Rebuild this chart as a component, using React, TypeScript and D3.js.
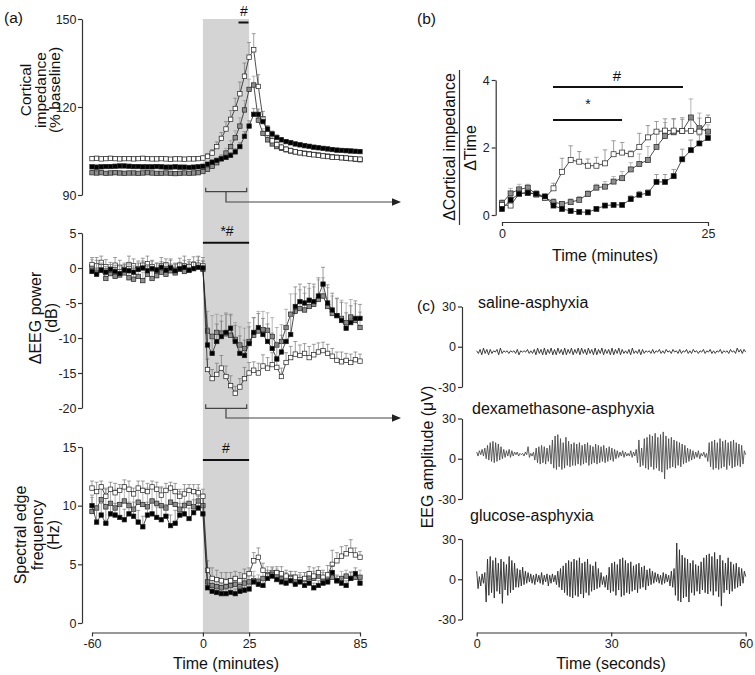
import React, { useRef, useEffect } from 'react';
import * as d3 from 'd3';

const FONT = 'Arial, "Liberation Sans", Helvetica, sans-serif';

// sampling grid of panel (a): -60 .. 85 min every 2.5 min
const minutes = d3.range(59).map(i => -60 + 2.5 * i);

// (a) cortical impedance, % baseline
const impWhite = [102.4,102.5,102.3,102.4,102.5,102.4,102.3,102.4,102.4,102.3,102.4,102.5,102.4,102.3,102.3,102.4,102.3,102.2,102.3,102.3,102.2,102.3,102.3,102.4,
  102.6,103.2,104.3,106.5,109.3,112.5,115.8,119.5,124.5,130.5,137,139.5,127,116,111,108.5,107.2,106.3,105.6,105.1,104.7,104.4,104.1,103.9,103.7,103.5,103.3,103.1,102.9,102.8,102.7,102.6,102.4,102.3,102.2];
const impGray = [97.6,97.5,97.6,97.4,97.5,97.6,97.5,97.4,97.5,97.5,97.4,97.5,97.6,97.5,97.4,97.4,97.5,97.4,97.3,97.4,97.5,97.4,97.5,97.6,
  98,98.8,99.8,101,102.5,104.3,106.5,109.5,113.5,119,126,127.5,115.5,111,108.8,107.4,106.5,105.9,105.4,105,104.7,104.4,104.2,104,103.8,103.6,103.4,103.2,103,102.8,102.7,102.5,102.4,102.2,102];
const impBlack = [99.6,99.5,99.6,99.7,99.7,99.8,99.9,99.9,99.8,99.7,99.7,99.6,99.6,99.6,99.7,99.6,99.5,99.5,99.6,99.5,99.5,99.4,99.5,99.6,
  99.8,100.5,101.2,101.8,102.3,102.8,103.5,104.7,106.5,110,113.5,117.5,117.5,115,112.5,110.8,109.6,108.8,108.2,107.8,107.4,107.1,106.8,106.6,106.3,106.1,105.9,105.7,105.5,105.3,105.2,105.1,105,104.9,104.8];
const impWhiteErr = [0.7,0.7,0.7,0.7,0.7,0.7,0.7,0.7,0.7,0.7,0.7,0.7,0.7,0.7,0.7,0.7,0.7,0.7,0.7,0.7,0.7,0.7,0.7,0.7,
  0.7,0.9,1.2,1.6,2,2.5,3,3.5,4,4.5,5,5.5,4,2.5,1.6,1.3,1.1,1,0.9,0.9,0.8,0.8,0.8,0.8,0.8,0.8,0.8,0.8,0.8,0.8,0.8,0.8,0.8,0.8,0.8];
const impGrayErr = [0.6,0.6,0.6,0.6,0.6,0.6,0.6,0.6,0.6,0.6,0.6,0.6,0.6,0.6,0.6,0.6,0.6,0.6,0.6,0.6,0.6,0.6,0.6,0.6,
  0.6,0.7,0.9,1.1,1.3,1.6,2,2.4,2.8,3.2,3.5,3,2.2,1.6,1.3,1.1,1,0.9,0.9,0.8,0.8,0.8,0.8,0.8,0.8,0.8,0.8,0.8,0.8,0.8,0.8,0.8,0.8,0.8,0.8];
const impBlackErr = [0.4,0.4,0.4,0.4,0.4,0.4,0.4,0.4,0.4,0.4,0.4,0.4,0.4,0.4,0.4,0.4,0.4,0.4,0.4,0.4,0.4,0.4,0.4,0.4,
  0.4,0.5,0.6,0.7,0.8,0.9,1,1.1,1.3,1.6,1.8,2,1.8,1.5,1.2,1,0.9,0.8,0.7,0.7,0.6,0.6,0.6,0.6,0.6,0.6,0.6,0.6,0.6,0.6,0.6,0.6,0.6,0.6,0.6];

// (a) delta EEG power, dB
const eegWhite = [0.5,0.3,0.8,0.2,-0.3,0.4,0.1,-0.2,0.5,0.3,-0.1,0.4,0.6,0.2,-0.3,0.3,0.5,0.1,-0.2,0.4,0.3,0.2,0.5,0.4,
  0.3,-14.5,-15.8,-15.2,-14.3,-15.5,-16.8,-17.9,-17,-15.8,-15,-14.6,-15,-14,-14.3,-13.8,-14.2,-15.5,-13.5,-12.8,-12.3,-12.5,-12.2,-12.8,-12.4,-12,-11.8,-12.2,-12.6,-13.2,-13.4,-13.2,-13.5,-13.1,-13.3];
const eegGray = [0.2,-0.6,-0.3,-1.5,-0.8,-1.2,-1.0,-0.7,-1.4,-1.6,-1.2,-1.8,-0.9,-1.5,-1.1,-0.6,-0.9,-0.4,-0.7,-0.2,-0.5,-0.3,0,0.2,
  -0.2,-9,-9.8,-9.2,-9.3,-9.4,-9.6,-10.2,-11,-11.5,-10.5,-9.6,-9,-8.8,-8.9,-9.8,-11,-10.5,-8.5,-6.6,-6.2,-5.8,-6,-5.5,-5.2,-4.5,-4,-5.5,-6.5,-6.8,-7.2,-7.8,-7,-7.5,-8.5];
const eegBlack = [-0.5,-0.9,-0.3,-0.6,-0.2,-0.5,-0.8,-0.3,-0.4,-0.6,-0.2,0,-0.4,-0.1,-0.3,0.1,-0.3,0,-0.4,-0.1,0.1,-0.3,-0.1,0.1,
  0,-11,-12.2,-10.5,-9.8,-9.2,-8.6,-10.5,-12.2,-12.5,-10.8,-9.2,-8.5,-9.5,-10.5,-11.5,-13,-12,-10.5,-9.5,-5.5,-4.8,-5,-4.6,-4.8,-4,-2.3,-5,-6,-6.8,-7.5,-8.6,-7.8,-7.2,-7.2];
const eegWhiteErr = [1,1.2,0.9,1,0.8,1.1,1,0.9,1.2,1,0.8,1,1.1,0.9,1,1.2,0.8,1,0.9,1,1.4,1,1.1,1.2,
  1.2,1.5,1.3,1.6,1.8,1.5,1.4,1,1.2,1.6,1.5,1.2,1.4,1.6,1.5,1.7,1.5,1.2,1.4,1.6,1.8,1.5,1.4,1.6,1.5,1.3,1.2,1.3,1.1,1.2,1.4,1,1.2,1.1,1];
const eegGrayErr = [1,1.1,0.9,1.2,1,1.1,0.9,1,1.2,1.1,1,1.2,0.9,1,1.1,1,0.9,1,1.2,1,1.1,1,0.9,1.5,
  1.2,2.8,3,2.6,2.5,3,2.8,2.4,2.6,2.9,2.7,2.5,2.8,2.6,2.5,2.7,2.5,2.4,2.6,2.9,2.5,2.7,2.4,2.6,2.5,2.8,2.6,2.7,2.5,2.4,2.6,2.8,2.5,2.4,2.2];
const eegBlackErr = [0.8,2,1,0.8,1,0.9,1.1,0.8,1,0.9,1.2,1,0.9,1.1,1,0.8,1,1.3,1,0.9,1,1.2,1,1,
  1,2.5,2.8,2.5,2.2,2.6,2,2.3,2.5,2.2,2.4,2.1,2,2.3,2.5,2.2,2,2.4,2.2,2.6,2.8,2.5,2.3,2.4,2.5,2.6,2.4,2.6,2.4,2.5,2.6,2.2,2.4,2.5,2];

// (a) spectral edge frequency, Hz
const sefWhite = [11.5,11.2,11.6,10.8,11.4,11.1,11.3,11.6,11.4,11.0,11.5,11.3,11.2,11.6,11.4,10.9,11.3,11.5,11.2,10.8,11.0,11.3,11.2,11.1,
  10.8,4.5,3.8,3.7,3.6,3.5,3.6,3.8,3.6,4.0,4.2,5.3,5.6,4.5,4.0,4.1,4.3,4.2,4.0,3.8,3.9,3.7,3.8,4.2,4.0,4.3,3.9,4.1,5.0,5.3,5.7,5.9,6.2,5.8,5.6];
const sefGray = [9.5,9.8,10.5,9.9,10.2,9.8,10.1,10.4,10.0,9.7,10.3,10.1,9.9,10.4,10.2,10.0,9.8,10.3,10.1,9.7,10.0,10.2,9.9,10.4,
  10.0,3.5,3.2,3.1,3.0,3.1,3.2,3.3,3.1,3.4,3.5,3.6,3.5,3.8,4.1,4.3,4.0,3.8,3.7,3.9,3.5,3.6,3.7,3.9,3.8,4.0,3.7,3.6,3.9,3.6,3.8,4.0,3.8,3.9,3.9];
const sefBlack = [10.0,8.6,9.2,8.5,9.3,9.2,9.0,8.8,9.3,9.1,8.6,8.2,9.2,9.3,9.0,8.8,9.1,8.3,8.5,9.2,9.3,8.9,9.4,9.8,
  9.3,3.0,2.7,2.6,2.5,2.5,2.6,2.5,2.7,2.8,2.9,3.5,3.3,3.2,3.8,4.0,3.7,3.5,3.4,3.6,3.3,3.5,3.2,3.4,3.0,3.2,3.4,3.5,4.3,3.6,3.4,3.2,3.8,4.2,3.4];
const sefWhiteErr = [0.6,0.8,0.5,0.7,0.6,0.8,0.5,0.6,0.7,0.5,0.6,0.8,0.7,0.5,0.6,0.7,0.6,0.5,0.7,0.6,0.8,0.5,0.6,0.7,
  0.6,0.8,0.9,0.8,0.7,0.8,0.7,0.6,0.7,0.6,0.5,0.7,0.8,0.6,0.5,0.6,0.5,0.6,0.5,0.6,0.5,0.6,0.5,0.6,0.7,0.5,0.6,0.8,1.2,0.7,0.8,0.7,0.9,0.6,0.5];
const sefGrayErr = [1.2,1.4,1.3,1.5,1.2,1.6,1.3,1.4,1.2,1.5,1.3,1.4,1.6,1.2,1.3,1.5,1.4,1.2,1.3,1.5,1.4,1.2,1.3,1.1,
  1,0.8,0.7,0.6,0.6,0.7,0.6,0.6,0.7,0.6,0.7,0.8,0.6,0.6,0.7,0.5,0.6,0.5,0.6,0.5,0.6,0.5,0.6,0.5,0.6,0.5,0.6,0.5,0.6,0.5,0.6,0.5,0.6,0.5,0.6];
const sefBlackErr = [0.9,1.1,1,1.2,0.9,1,1.1,0.9,1,1.2,1,0.9,1.1,1,0.9,1.2,1,0.9,1.1,1,1,0.9,1.1,1,
  0.8,0.5,0.4,0.4,0.4,0.4,0.4,0.4,0.4,0.4,0.4,0.5,0.5,0.4,0.4,0.5,0.4,0.4,0.4,0.4,0.4,0.4,0.4,0.4,0.4,0.4,0.4,0.4,0.6,0.4,0.4,0.4,0.5,0.5,0.4];

// (b) rate of impedance change during asphyxia, 25 samples over 0-25 min
const rateWhite = [0.3,0.28,0.64,0.66,0.61,0.5,0.79,1.28,1.63,1.58,1.46,1.46,1.53,1.8,1.85,1.8,2.02,2.3,2.47,2.5,2.5,2.49,2.49,2.47,2.81];
const rateGray = [0.35,0.64,0.76,0.81,0.61,0.52,0.38,0.33,0.38,0.45,0.62,0.81,0.84,0.99,1.09,1.35,1.51,1.63,2.02,2.34,2.45,2.49,2.89,2.57,2.47];
const rateBlack = [0.18,0.45,0.63,0.66,0.63,0.55,0.28,0.18,0.12,0.09,0.08,0.18,0.28,0.3,0.3,0.47,0.6,0.65,0.98,0.98,1.15,1.65,1.92,2.12,2.28];
const rateWhiteErr = [0.1,0.1,0.15,0.1,0.1,0.1,0.15,0.4,0.42,0.3,0.2,0.25,0.4,0.4,0.3,0.1,0.4,0.35,0.3,0.35,0.35,0.35,0.4,0.4,0.15];
const rateGrayErr = [0.1,0.15,0.15,0.1,0.1,0.1,0.1,0.05,0.1,0.1,0.1,0.1,0.15,0.15,0.2,0.2,0.3,0.4,0.45,0.4,0.4,0.4,0.55,0.45,0.2];
const rateBlackErr = [0.05,0.1,0.1,0.1,0.05,0.05,0.05,0.05,0.05,0.05,0.05,0.05,0.05,0.05,0.05,0.1,0.1,0.1,0.22,0.22,0.2,0.3,0.3,0.25,0.15];

// (c) raw EEG traces, microvolts, spread evenly over 60 s
const salineTrace = [-3,-5,-2,-6,-1,-5,-2,-6,-2,-5,-3,-4,-2,-6,-1,-5,-3,-4,-3,-5,-3,-4,-3,-5,-2,-6,-3,-4,-3,-4,-2,-5,-3,-5,-2,-6,-1,-5,-2,-6,
  -1,-6,-2,-5,-1,-6,-2,-6,-1,-5,-2,-6,-1,-6,-2,-5,-1,-6,-2,-5,-1,-6,-1,-5,-2,-6,-1,-5,-2,-6,-1,-6,-2,-5,-1,-6,-2,-5,-2,-6,
  -1,-6,-2,-5,-1,-6,-2,-5,-3,-5,-2,-6,-1,-5,-3,-5,-2,-6,-2,-5,-3,-4,-3,-5,-2,-5,-3,-4,-2,-5,-3,-5,-2,-4,-3,-5,-2,-4,-3,-5,
  -2,-5,-3,-4,-2,-5,-3,-5,-2,-4,-3,-5,-3,-4,-2,-5,-3,-4,-2,-5,-3,-5,-3,-4,-2,-5,-3,-4,-3,-5,-2,-4,-3,-5,-1,-4,-2,-5,-2,-4];
const dexTrace = [5,2,6,3,7,2,
  8,0,10,-1,12,-2,13,-3,12,-2,11,-1,9,
  0,7,1,6,2,7,1,6,2,5,3,5,2,4,
  3,4,2,5,3,9,1,4,2,5,
  -1,8,-3,9,-4,10,-3,9,-4,8,-2,10,-4,
  14,-7,17,-8,18,-6,15,-8,12,-7,16,-5,13,-6,11,-5,12,
  -5,11,-4,12,-5,10,-4,11,-3,12,-5,10,-4,9,-3,11,-4,10,-3,9,-2,10,-3,8,-2,9,-1,8,-2,7,
  0,6,1,5,2,6,1,5,2,4,2,6,1,5,2,7,
  -3,14,-6,8,
  -5,15,-7,16,-8,18,-6,17,-8,19,-7,16,-9,18,-10,20,-15,17,-8,15,-7,16,-6,14,-7,13,-5,12,-6,11,-4,10,-3,
  8,-2,7,-1,6,0,5,1,6,0,4,2,5,1,4,-2,12,
  -6,13,-8,14,-7,12,-8,15,-7,13,-6,14,-8,12,-5,13,-7,14,-6,12,-5,11,-6,10,-4,6,3];
const glucoseTrace = [6,-7,2,-5,4,-3,5,
  -17,15,-12,17,-10,14,-14,16,-9,12,-11,15,-18,13,-8,11,-12,17,-10,14,-8,12,-6,
  8,-6,7,-5,9,-4,6,-3,5,-2,
  4,-3,3,-4,4,-2,3,-3,5,-4,3,-2,4,-5,3,-3,4,-2,3,-4,
  6,-6,8,-8,10,-10,12,-12,14,-13,13,-14,15,-12,14,-13,16,-11,12,-14,13,-10,15,-12,11,-9,10,-8,13,-7,8,-6,5,-4,
  2,-6,3,
  -8,9,-10,12,-9,13,-12,11,-8,15,-13,16,-12,14,-10,12,-11,13,-9,10,-8,11,-10,12,-7,9,-6,10,-8,7,-5,8,-4,6,-3,5,-2,
  4,-3,3,-4,5,-3,4,-2,3,-5,6,-6,8,
  -12,27,-16,22,-17,18,-14,16,-13,15,-17,12,-10,14,-12,11,-9,10,-11,13,-8,16,-10,18,-11,19,-9,
  17,-12,20,-9,15,-13,18,-20,14,-10,12,-8,16,-11,13,-9,11,-7,12,-6,9,-5,8,-3,6,2];

const GRAY_FILL = '#8e8e8e';

function styleAxis(g: any) {
  g.attr('font-family', FONT).attr('font-size', 12.5);
  g.select('.domain').attr('stroke', '#333').attr('stroke-width', 1.2);
  g.selectAll('.tick line').attr('stroke', '#333').attr('stroke-width', 1.2);
  g.selectAll('.tick text').attr('fill', '#222');
}

function drawSeries(g: any, x: any, y: any, xs: number[], vals: number[], errs: number[], fill: string, size: number) {
  const cap = size * 0.45;
  const eg = g.append('g').attr('stroke', fill === GRAY_FILL ? '#9a9a9a' : '#777').attr('stroke-width', 0.7);
  vals.forEach((v, i) => {
    const cx = x(xs[i]);
    const top = y(v + errs[i]);
    eg.append('line').attr('x1', cx).attr('x2', cx).attr('y1', y(v)).attr('y2', top);
    eg.append('line').attr('x1', cx - cap).attr('x2', cx + cap).attr('y1', top).attr('y2', top);
  });
  const line = d3.line<number>().x((_, i) => x(xs[i])).y(d => y(d));
  g.append('path').datum(vals).attr('d', line).attr('fill', 'none').attr('stroke', '#222').attr('stroke-width', 0.8);
  g.append('g').selectAll('rect').data(vals).enter().append('rect')
    .attr('x', (_: number, i: number) => x(xs[i]) - size / 2)
    .attr('y', (d: number) => y(d) - size / 2)
    .attr('width', size).attr('height', size)
    .attr('fill', fill).attr('stroke', '#222').attr('stroke-width', 0.7);
}

function addText(svg: any, x: number, y: number, txt: string, size: number, anchor = 'start', rotate = false) {
  svg.append('text')
    .attr('transform', rotate ? `translate(${x},${y}) rotate(-90)` : `translate(${x},${y})`)
    .attr('text-anchor', anchor)
    .attr('font-family', FONT).attr('font-size', size).attr('fill', '#111')
    .text(txt);
}

const App = () => {
  const ref = useRef<SVGSVGElement>(null);

  useEffect(() => {
    const svg = d3.select(ref.current);
    svg.selectAll('*').remove();
    const fmt = (d: any) => String(d);

    // ---------- panel (a) ----------
    const xA = d3.scaleLinear().domain([-60, 85]).range([92, 360]);
    const yImp = d3.scaleLinear().domain([90, 150]).range([195, 19]);
    const yEeg = d3.scaleLinear().domain([-20, 5]).range([408, 233]);
    const ySef = d3.scaleLinear().domain([0, 15]).range([623, 447]);

    // asphyxia shading
    svg.append('rect').attr('x', xA(0)).attr('y', 19).attr('width', xA(25) - xA(0)).attr('height', 632 - 19)
      .attr('fill', '#d4d4d4');

    const panels = [
      { y: yImp, ticks: [90, 120, 150], s: [impGray, impWhite, impBlack], e: [impGrayErr, impWhiteErr, impBlackErr] },
      { y: yEeg, ticks: [-20, -15, -10, -5, 0, 5], s: [eegGray, eegWhite, eegBlack], e: [eegGrayErr, eegWhiteErr, eegBlackErr] },
      { y: ySef, ticks: [0, 5, 10, 15], s: [sefGray, sefWhite, sefBlack], e: [sefGrayErr, sefWhiteErr, sefBlackErr] },
    ];
    const fills = [GRAY_FILL, '#ffffff', '#000000'];
    panels.forEach(p => {
      const ax = svg.append('g').attr('transform', 'translate(82,0)')
        .call(d3.axisLeft(p.y).tickValues(p.ticks).tickFormat(fmt).tickSize(4).tickSizeOuter(0).tickPadding(1.5));
      styleAxis(ax);
      const g = svg.append('g');
      p.s.forEach((vals, k) => drawSeries(g, xA, p.y, minutes, vals, p.e[k], fills[k], 4.4));
    });
    const xAx = svg.append('g').attr('transform', 'translate(0,632.5)')
      .call(d3.axisBottom(xA).tickValues([-60, 0, 25, 85]).tickFormat(fmt).tickSize(4).tickSizeOuter(0).tickPadding(3));
    styleAxis(xAx);

    // significance bars
    const bar = (x1: number, x2: number, y: number) =>
      svg.append('line').attr('x1', x1).attr('x2', x2).attr('y1', y).attr('y2', y).attr('stroke', '#111').attr('stroke-width', 2);
    bar(238.5, 248.5, 22.5);
    addText(svg, 244, 16, '#', 14, 'middle');
    bar(xA(0), xA(25), 242.7);
    addText(svg, 227, 236, '*#', 14, 'middle');
    bar(xA(0), xA(25), 460);
    addText(svg, 226, 453, '#', 14, 'middle');

    // brackets and arrows pointing to (b) and (c)
    [{ yb: 191.7, ya: 202 }, { yb: 408.3, ya: 418 }].forEach(b => {
      const x1 = 205.7, x2 = 246.7, xm = 226;
      svg.append('path')
        .attr('d', `M${x1},${b.yb - 4}V${b.yb}H${x2}V${b.yb - 4}M${xm},${b.yb}V${b.ya}H393`)
        .attr('fill', 'none').attr('stroke', '#444').attr('stroke-width', 1.2);
      svg.append('path').attr('d', `M401,${b.ya}L392,${b.ya - 3.8}L392,${b.ya + 3.8}Z`).attr('fill', '#222');
    });

    // axis titles (a)
    addText(svg, 4, 23, '(a)', 15.5);
    addText(svg, 31, 90, 'Cortical', 15.5, 'middle', true);
    addText(svg, 45.5, 90, 'impedance', 15.5, 'middle', true);
    addText(svg, 60, 90, '(% baseline)', 15.5, 'middle', true);
    addText(svg, 41, 318, 'ΔEEG power', 16, 'middle', true);
    addText(svg, 57, 318, '(dB)', 16, 'middle', true);
    addText(svg, 26, 535, 'Spectral edge', 16, 'middle', true);
    addText(svg, 43, 535, 'frequency', 16, 'middle', true);
    addText(svg, 59, 535, '(Hz)', 16, 'middle', true);
    addText(svg, 226, 669, 'Time (minutes)', 16, 'middle');

    // ---------- panel (b) ----------
    const xB = d3.scaleLinear().domain([0, 25]).range([502, 708]);
    const yB = d3.scaleLinear().domain([0, 4]).range([215, 80]);
    const bMinutes = rateBlack.map((_, i) => (i * 25) / (rateBlack.length - 1));
    const ayB = svg.append('g').attr('transform', 'translate(495.7,0)')
      .call(d3.axisLeft(yB).tickValues([0, 2, 4]).tickFormat(fmt).tickSize(4).tickSizeOuter(0).tickPadding(2));
    styleAxis(ayB);
    const axB = svg.append('g').attr('transform', 'translate(0,222)')
      .call(d3.axisBottom(xB).tickValues([0, 25]).tickFormat(fmt).tickSize(4).tickSizeOuter(0).tickPadding(3));
    styleAxis(axB);
    const gB = svg.append('g');
    drawSeries(gB, xB, yB, bMinutes, rateGray, rateGrayErr, GRAY_FILL, 5);
    drawSeries(gB, xB, yB, bMinutes, rateWhite, rateWhiteErr, '#ffffff', 5);
    drawSeries(gB, xB, yB, bMinutes, rateBlack, rateBlackErr, '#000000', 5);
    bar(553, 683, 87);
    addText(svg, 617, 81, '#', 15, 'middle');
    bar(553, 622, 120);
    addText(svg, 588, 109, '*', 14, 'middle');
    addText(svg, 417, 24, '(b)', 15.5);
    addText(svg, 455, 147, 'ΔCortical impedance', 16, 'middle', true);
    svg.append('line').attr('x1', 459.5).attr('x2', 459.5).attr('y1', 70).attr('y2', 225).attr('stroke', '#333').attr('stroke-width', 1.2);
    addText(svg, 476, 148, 'ΔTime', 16, 'middle', true);
    addText(svg, 605, 261, 'Time (minutes)', 16, 'middle');

    // ---------- panel (c) ----------
    const xC = d3.scaleLinear().domain([0, 60]).range([476.7, 745.7]);
    const traces = [
      { name: 'saline-asphyxia', vals: salineTrace, top: 306.5, lx: 478, ly: 308, col: '#2a2a2a' },
      { name: 'dexamethasone-asphyxia', vals: dexTrace, top: 418.5, lx: 472, ly: 414, col: '#4d4d4d' },
      { name: 'glucose-asphyxia', vals: glucoseTrace, top: 539, lx: 470, ly: 521, col: '#2a2a2a' },
    ];
    traces.forEach(t => {
      const y = d3.scaleLinear().domain([-30, 30]).range([t.top + 80.5, t.top]);
      const ay = svg.append('g').attr('transform', 'translate(462,0)')
        .call(d3.axisLeft(y).tickValues([-30, 0, 30]).tickFormat(fmt).tickSize(4).tickSizeOuter(0).tickPadding(2));
      styleAxis(ay);
      const n = t.vals.length;
      const line = d3.line<number>().x((_, i) => xC((i * 60) / (n - 1))).y(d => y(d));
      svg.append('path').datum(t.vals).attr('d', line).attr('fill', 'none').attr('stroke', t.col).attr('stroke-width', 0.9);
      addText(svg, t.lx, t.ly, t.name, 16);
    });
    const axC = svg.append('g').attr('transform', 'translate(0,632.5)')
      .call(d3.axisBottom(xC).tickValues([0, 30, 60]).tickFormat(fmt).tickSize(4).tickSizeOuter(0).tickPadding(3));
    styleAxis(axC);
    addText(svg, 417, 311, '(c)', 15.5);
    addText(svg, 433, 457, 'EEG amplitude (μV)', 16, 'middle', true);
    addText(svg, 611, 669, 'Time (seconds)', 16, 'middle');
  }, []);

  return (
    <svg ref={ref} width={755} height={675}
      style={{ position: 'absolute', left: 0, top: 0, background: '#fff' }} />
  );
};

export default App;
